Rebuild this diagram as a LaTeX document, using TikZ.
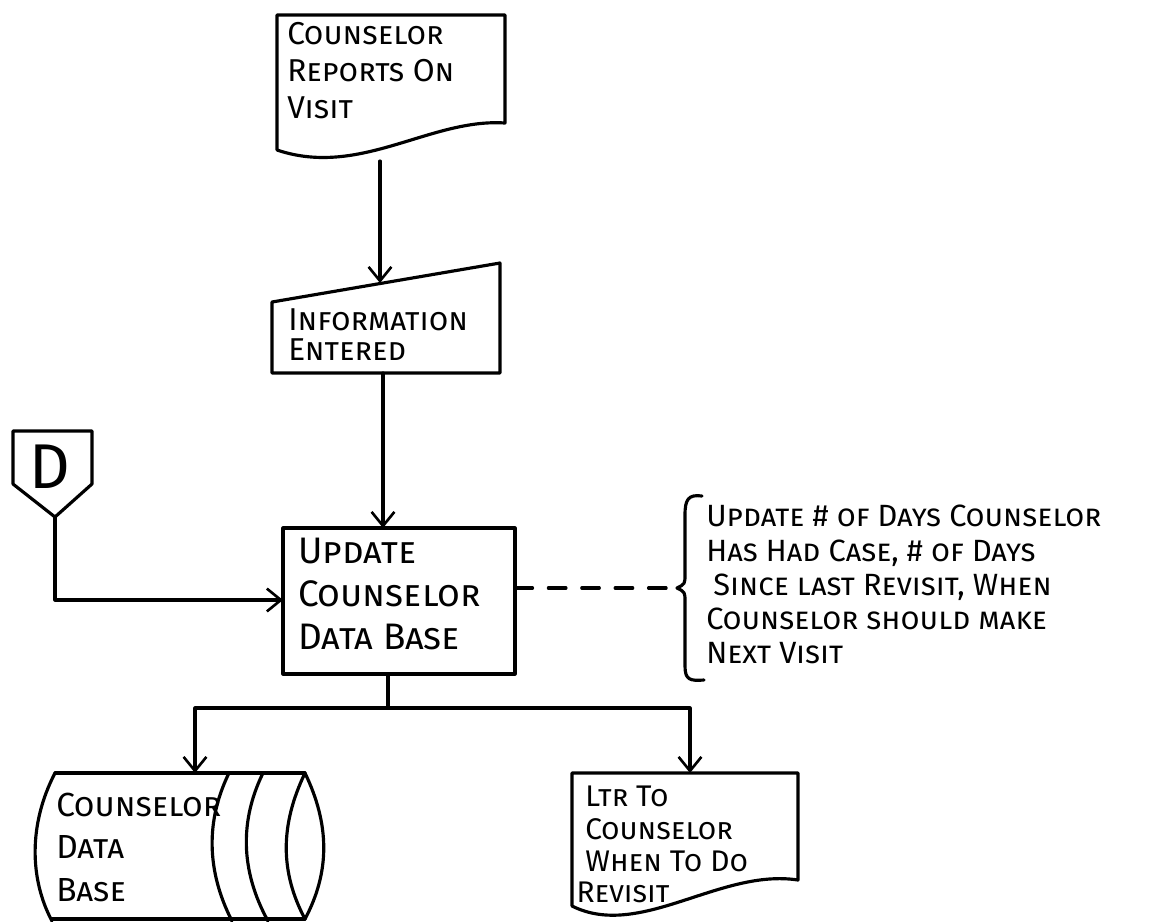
\documentclass[tikz,border=0pt]{standalone}
\usepackage{fontspec}
\setmainfont{Fira Sans}
\usetikzlibrary{arrows.meta, positioning}
\tikzset{
  hand/.style={line width=1.8pt, line join=round, line cap=round},
  flow/.style={hand, -{Straight Barb[length=8pt, width=13pt, line width=1.5pt]}},
  lbl/.style={anchor=north west, align=left, inner sep=0pt},
}
\begin{document}
\begin{tikzpicture}[x=0.02cm, y=-0.02cm]
  \useasboundingbox (0,0) rectangle (1163,921);
  \clip (0,0) rectangle (1163,921);
  % Report from the counselor
  \draw[hand] (277,150) -- (277,15) -- (505,15) -- (505,123)
    .. controls (430,118) and (360,178) .. (277,150);
  \coordinate (repOut) at (380,161);
  \node[lbl, font=\fontsize{18}{21}\selectfont\scshape] (rep) at (287,22)
    {Counselor\\Reports On\\Visit};
  % Manual input
  \draw[hand] (272,302) -- (500,263) -- (500,373) -- (272,373) -- cycle;
  \coordinate (infIn) at (380,283);
  \coordinate (infOut) at (383,373);
  \node[lbl, font=\fontsize{18}{17}\selectfont\scshape] (inf) at (288,308)
    {Information\\Entered};
  % Update box
  \draw[hand] (283,528) rectangle (515,674);
  \coordinate (updIn) at (383,528);
  \coordinate (updW) at (283,600);
  \coordinate (updE) at (515,588);
  \coordinate (updOut) at (388,674);
  \node[lbl, font=\fontsize{21}{24.5}\selectfont\scshape] (upd) at (298,538)
    {Update\\Counselor\\Data Base};
  % Off page connector
  \draw[hand] (13,431) -- (92,431) -- (92,484) -- (55,517) -- (13,484) -- cycle;
  \coordinate (disOut) at (55,517);
  \node[font=\fontsize{36}{36}\selectfont] (dis) at (50,467) {D};
  % Note
  \draw[hand] (702,496) .. controls (688,494) and (685,500) .. (685,515)
    -- (685,574) .. controls (685,584) .. (677,588) coordinate (brc)
    .. controls (685,592) .. (685,602) -- (685,666)
    .. controls (685,680) and (690,681) .. (704,680);
  \node[lbl, font=\fontsize{17.5}{19.5}\selectfont\scshape] (note) at (706,505)
    {Update \# of Days Counselor\\Has Had Case, \# of Days\\
     \hspace{4pt}Since last Revisit, When\\Counselor should make\\Next Visit};
  % Data base store
  \draw[hand] (55,773) -- (305,773);
  \draw[hand] (52,919) -- (305,919);
  \draw[hand] (55,773) .. controls (28,825) and (30,880) .. (52,921);
  \draw[hand] (229,773) .. controls (206,820) and (206,870) .. (232,921);
  \draw[hand] (263,773) .. controls (240,820) and (240,870) .. (268,921);
  \draw[hand] (305,773) .. controls (330,825) and (330,872) .. (305,919);
  \draw[hand] (305,773) .. controls (280,825) and (280,872) .. (305,919);
  \coordinate (dbIn) at (195,773);
  \node[lbl, font=\fontsize{19}{24}\selectfont\scshape] (db) at (56,793)
    {Counselor\\Data\\Base};
  % Letter
  \draw[hand] (572,906) -- (572,773) -- (798,773) -- (798,880)
    .. controls (720,868) and (640,940) .. (572,906);
  \coordinate (ltrIn) at (690,773);
  \node[lbl, font=\fontsize{17}{18.5}\selectfont\scshape] (ltr) at (585,786)
    {Ltr To\\Counselor\\When To Do\\[-1pt]\hspace{-5pt}Revisit};
  % Connectors
  \draw[flow] (repOut) -- (infIn);
  \draw[flow] (infOut) -- (updIn);
  \draw[flow] (disOut) |- (updW);
  \draw[hand, dash pattern=on 10pt off 9pt] (updE) -- (brc);
  \draw[hand] (updOut) -- ++(0,34) coordinate (split);
  \draw[flow] (split) -| (dbIn);
  \draw[flow] (split) -| (ltrIn);
\end{tikzpicture}
\end{document}
